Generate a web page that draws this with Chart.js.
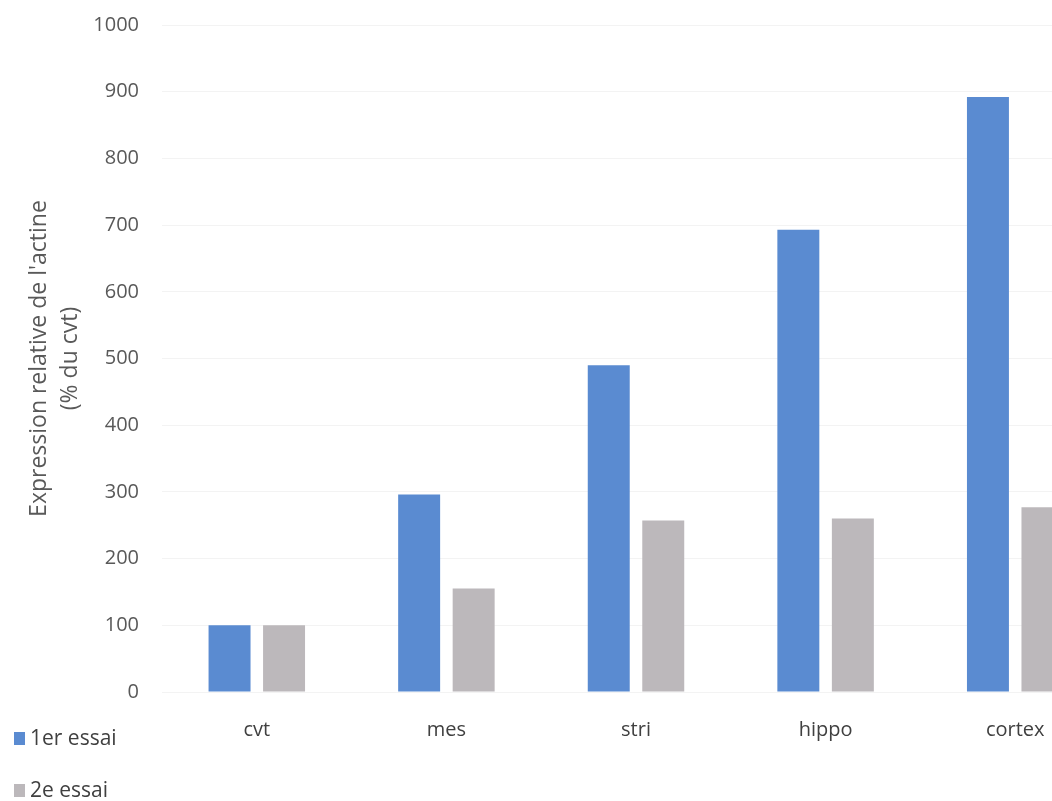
<!DOCTYPE html>
<html>
<head>
<meta charset="utf-8">
<script src="https://cdn.jsdelivr.net/npm/chart.js@4"></script>
<style>
  html, body { margin: 0; padding: 0; background: #fff; overflow: hidden; }
  #wrap { position: absolute; left: 0; top: -10px; width: 1110px; height: 811px; }
</style>
</head>
<body>
<div id="wrap"><canvas id="chart"></canvas></div>
<script>
// Donnees
const categories = ['cvt', 'mes', 'stri', 'hippo', 'cortex'];
const essai1 = [100, 296, 490, 693, 892];
const essai2 = [100, 155, 257, 260, 277];
const seriesLabels = ['1er essai', '2e essai'];
const seriesColors = ['#5a8bd1', '#bcb8bb'];
const yTitle = ["Expression relative de l'actine", '(% du cvt)'];

const FONT = "'Open Sans', 'Noto Sans', sans-serif";

// Legende verticale en bas a gauche (le canvas est decale de 10px vers le haut)
const sideLegend = {
    id: 'sideLegend',
    afterDraw(chart) {
        const ctx = chart.ctx;
        ctx.save();
        ctx.font = '21px ' + FONT;
        ctx.textBaseline = 'middle';
        chart.data.datasets.forEach((ds, i) => {
            const y = 749 + i * 52;
            ctx.fillStyle = ds.backgroundColor;
            ctx.fillRect(14, y - 7, 11, 13);
            ctx.fillStyle = '#404040';
            ctx.fillText(ds.label, 30, y);
        });
        ctx.restore();
    }
};

const ctx = document.getElementById('chart').getContext('2d');
new Chart(ctx, {
    type: 'bar',
    data: {
        labels: categories,
        datasets: [
            { label: seriesLabels[0], data: essai1, backgroundColor: seriesColors[0] },
            { label: seriesLabels[1], data: essai2, backgroundColor: seriesColors[1] }
        ]
    },
    options: {
        responsive: true,
        maintainAspectRatio: false,
        animation: false,
        layout: { padding: { top: 15, right: 0, bottom: 0, left: 0 } },
        datasets: { bar: { categoryPercentage: 0.575, barPercentage: 0.77 } },
        plugins: {
            legend: { display: false },
            tooltip: { enabled: false }
        },
        scales: {
            x: {
                grid: { display: false },
                border: { display: false },
                ticks: { color: '#404040', font: { family: FONT, size: 20 }, padding: 18, maxRotation: 0 },
                afterFit: (s) => { s.height = 109; }
            },
            y: {
                min: 0, max: 1000,
                grid: { color: '#f3f3f3', drawTicks: false },
                border: { display: false },
                ticks: {
                    stepSize: 100, color: '#595959', font: { family: FONT, size: 20 }, padding: 23,
                    callback: (v) => String(v)
                },
                title: {
                    display: true,
                    text: yTitle,
                    color: '#595959',
                    font: { family: FONT, size: 23, lineHeight: 1.35 },
                    padding: { top: 24, bottom: 0 }
                },
                afterFit: (s) => { s.width = 162; }
            }
        }
    },
    plugins: [sideLegend]
});
</script>
</body>
</html>
